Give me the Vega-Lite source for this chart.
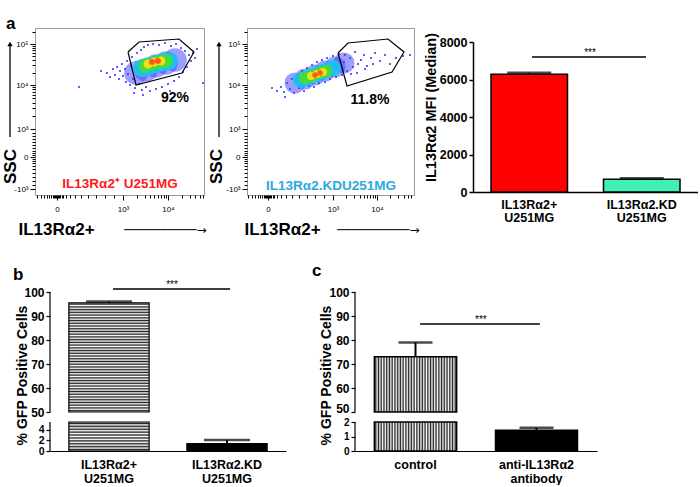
{
"$schema":"https://vega.github.io/schema/vega-lite/v6.json",
"padding":{"left":0,"top":14,"right":0,"bottom":0},
"background":"white",
"config":{"font":"Liberation Sans","view":{"stroke":null},
"axis":{"labelFont":"Liberation Sans","titleFont":"Liberation Sans","labelColor":"#000","titleColor":"#000","tickColor":"#000","domainColor":"#000","grid":false,"labelOverlap":false},
"title":{"font":"Liberation Sans","color":"#000"},"text":{"font":"Liberation Sans"}},
"resolve":{"scale":{"color":"independent","size":"independent","opacity":"independent"}},
"datasets":{
"flow1":[{"x":72,"y":122,"lvl":0},{"x":75,"y":118,"lvl":0},{"x":78,"y":126,"lvl":0},{"x":80,"y":120,"lvl":0},{"x":82,"y":128,"lvl":0},{"x":84,"y":116,"lvl":0},{"x":85,"y":124,"lvl":0},{"x":87,"y":131,"lvl":0},{"x":88,"y":119,"lvl":0},{"x":90,"y":126,"lvl":0},{"x":91,"y":113,"lvl":0},{"x":92,"y":134,"lvl":0},{"x":93,"y":121,"lvl":0},{"x":95,"y":110,"lvl":0},{"x":96,"y":129,"lvl":0},{"x":97,"y":138,"lvl":0},{"x":98,"y":116,"lvl":0},{"x":100,"y":107,"lvl":0},{"x":101,"y":133,"lvl":0},{"x":102,"y":142,"lvl":0},{"x":104,"y":111,"lvl":0},{"x":106,"y":145,"lvl":0},{"x":107,"y":105,"lvl":0},{"x":109,"y":148,"lvl":0},{"x":111,"y":108,"lvl":0},{"x":113,"y":150,"lvl":0},{"x":115,"y":104,"lvl":0},{"x":118,"y":151,"lvl":0},{"x":121,"y":106,"lvl":0},{"x":124,"y":150,"lvl":0},{"x":127,"y":108,"lvl":0},{"x":130,"y":152,"lvl":0},{"x":133,"y":111,"lvl":0},{"x":136,"y":149,"lvl":0},{"x":139,"y":114,"lvl":0},{"x":141,"y":151,"lvl":0},{"x":144,"y":118,"lvl":0},{"x":146,"y":147,"lvl":0},{"x":148,"y":123,"lvl":0},{"x":150,"y":144,"lvl":0},{"x":152,"y":128,"lvl":0},{"x":154,"y":140,"lvl":0},{"x":156,"y":134,"lvl":0},{"x":158,"y":142,"lvl":0},{"x":160,"y":137,"lvl":0},{"x":44,"y":108,"lvl":0},{"x":168,"y":112,"lvl":0},{"x":66,"y":124,"lvl":0},{"x":162,"y":146,"lvl":0},{"x":99,"y":102,"lvl":0},{"x":108,"y":100,"lvl":0},{"x":135,"y":104,"lvl":0},
{"x":101,"y":122,"lvl":1},{"x":111,"y":125,"lvl":1},{"x":121,"y":129,"lvl":1},{"x":131,"y":132,"lvl":1},{"x":140,"y":135,"lvl":1},
{"x":107,"y":127,"lvl":2},{"x":114,"y":129,"lvl":2},{"x":121,"y":131,"lvl":2},{"x":128,"y":133,"lvl":2},{"x":134,"y":134,"lvl":2},
{"x":110,"y":129,"lvl":3},{"x":117,"y":131,"lvl":3},{"x":124,"y":133,"lvl":3},{"x":131,"y":134,"lvl":3},
{"x":113,"y":131,"lvl":4},{"x":119,"y":133,"lvl":4},{"x":126,"y":134,"lvl":4},
{"x":117,"y":133,"lvl":5},{"x":123,"y":134,"lvl":5}],
"flow2":[{"x":30,"y":104,"lvl":0},{"x":34,"y":108,"lvl":0},{"x":37,"y":103,"lvl":0},{"x":40,"y":112,"lvl":0},{"x":43,"y":106,"lvl":0},{"x":45,"y":116,"lvl":0},{"x":47,"y":102,"lvl":0},{"x":50,"y":120,"lvl":0},{"x":52,"y":107,"lvl":0},{"x":55,"y":124,"lvl":0},{"x":57,"y":104,"lvl":0},{"x":60,"y":127,"lvl":0},{"x":62,"y":109,"lvl":0},{"x":65,"y":130,"lvl":0},{"x":67,"y":108,"lvl":0},{"x":70,"y":133,"lvl":0},{"x":72,"y":112,"lvl":0},{"x":75,"y":135,"lvl":0},{"x":78,"y":113,"lvl":0},{"x":80,"y":137,"lvl":0},{"x":83,"y":116,"lvl":0},{"x":86,"y":139,"lvl":0},{"x":89,"y":118,"lvl":0},{"x":92,"y":141,"lvl":0},{"x":95,"y":120,"lvl":0},{"x":98,"y":140,"lvl":0},{"x":100,"y":124,"lvl":0},{"x":103,"y":137,"lvl":0},{"x":106,"y":128,"lvl":0},{"x":108,"y":143,"lvl":0},{"x":111,"y":131,"lvl":0},{"x":114,"y":135,"lvl":0},{"x":117,"y":140,"lvl":0},{"x":120,"y":129,"lvl":0},{"x":124,"y":137,"lvl":0},{"x":128,"y":142,"lvl":0},{"x":133,"y":134,"lvl":0},{"x":138,"y":140,"lvl":0},{"x":143,"y":131,"lvl":0},{"x":149,"y":137,"lvl":0},{"x":156,"y":139,"lvl":0},{"x":163,"y":140,"lvl":0},{"x":110,"y":122,"lvl":0},{"x":118,"y":126,"lvl":0},{"x":126,"y":131,"lvl":0},{"x":97,"y":133,"lvl":0},{"x":91,"y":131,"lvl":0},{"x":104,"y":121,"lvl":0},{"x":38,"y":98,"lvl":0},{"x":25,"y":107,"lvl":0},
{"x":48,"y":112,"lvl":1},{"x":58,"y":116,"lvl":1},{"x":68,"y":120,"lvl":1},{"x":78,"y":124,"lvl":1},{"x":88,"y":128,"lvl":1},{"x":97,"y":132,"lvl":1},
{"x":54,"y":115,"lvl":2},{"x":62,"y":118,"lvl":2},{"x":70,"y":121,"lvl":2},{"x":78,"y":124,"lvl":2},{"x":86,"y":127,"lvl":2},
{"x":58,"y":117,"lvl":3},{"x":65,"y":119,"lvl":3},{"x":72,"y":122,"lvl":3},{"x":79,"y":124,"lvl":3},
{"x":64,"y":119,"lvl":4},{"x":70,"y":121,"lvl":4},{"x":76,"y":123,"lvl":4},
{"x":68,"y":120,"lvl":5},{"x":73,"y":122,"lvl":5}],
"gate1":[{"i":0,"x":93,"y":143},{"i":1,"x":104,"y":153},{"i":2,"x":144,"y":156},{"i":3,"x":159,"y":143},{"i":4,"x":147,"y":122},{"i":5,"x":101,"y":110},{"i":6,"x":93,"y":143}],
"gate2":[{"i":0,"x":91,"y":142},{"i":1,"x":101,"y":152},{"i":2,"x":141,"y":156},{"i":3,"x":157,"y":143},{"i":4,"x":145,"y":123},{"i":5,"x":100,"y":109},{"i":6,"x":91,"y":142}],
"a":[{"g":"IL13Rα2+ U251MG","v":6280,"e":6350},{"g":"IL13Rα2.KD U251MG","v":680,"e":720}],
"b":[{"g":"IL13Rα2+ U251MG","v":95.5,"e":96},{"g":"IL13Rα2.KD U251MG","v":1.4,"e":2.1}],
"c":[{"g":"control","v":73,"e":79},{"g":"anti-IL13Rα2 antibody","v":1.45,"e":1.6}]
},
"columns":3,
"bounds":"flush",
"spacing":{"row":97,"column":43},
"concat":[
  {"width":169,"height":167,"view":{"stroke":"#999"},
   "title":{"text":"a","anchor":"start","frame":"group","dx":-29,"offset":-18,"baseline":"alphabetic","fontSize":17,"fontWeight":"bold"},
   "resolve":{"axis":{"x":"independent","y":"independent"}},
   "layer":[
    {"data":{"name":"flow1"},"mark":{"type":"circle"},
     "encoding":{
      "x":{"field":"x","type":"quantitative","scale":{"domain":[0,169],"nice":false,"zero":false},
        "axis":{"orient":"bottom","domain":false,"values":[2,6,9,12,14,16,17.5,19,20,21,22,23,24,25,26.5,28,31,35,40,46,53,61,70,79,88,101.5,109.5,115,119.5,123,126,128.6,130.9,133,146.5,154.5,160,164.5,168],
        "labelExpr":"datum.value==22?'0':datum.value==88?'10³':datum.value==133?'10⁴':''",
        "tickSize":{"condition":{"test":"datum.value==22||datum.value==88||datum.value==133","value":5},"value":3},
        "labelFontSize":8,"labelPadding":5,"labelFlush":false,
        "title":"IL13Rα2+","titleFontSize":17,"titleFontWeight":"bold","titleAlign":"left","titleBaseline":"middle","titleX":-17,"titleY":34}},
      "y":{"field":"y","type":"quantitative","scale":{"domain":[0,167],"nice":false,"zero":false},
        "axis":{"orient":"left","domain":false,"values":[6,10,14,18,22,26,29,32,34,36,38,40,42,44,47,50,53,56,59,62,66,79.2,87,92.5,96.8,100.2,103.2,105.7,108,110,122.3,129.6,134.7,138.7,141.9,144.6,147,149.1,151,163.3],
        "labelExpr":"datum.value==6?'-10³':datum.value==38?'0':datum.value==66?'10³':datum.value==110?'10⁴':datum.value==151?'10⁵':''",
        "tickSize":{"condition":{"test":"datum.value==6||datum.value==38||datum.value==66||datum.value==110||datum.value==151","value":5},"value":3},
        "labelFontSize":8,"labelPadding":2,"labelFlush":false,
        "title":"SSC","titleFontSize":17,"titleFontWeight":"bold","titleAngle":270,"titleAlign":"center","titleBaseline":"middle","titleX":-25,"titleY":138}},
      "color":{"field":"lvl","type":"ordinal","scale":{"domain":[0,1,2,3,4,5],"range":["#2828ff","#3c3cff","#18c4f4","#40dc40","#eee010","#ff5a1a"]},"legend":null},
      "size":{"field":"lvl","type":"quantitative","scale":{"type":"linear","domain":[0,1,2,3,4,5],"range":[4,560,330,190,80,36],"zero":false,"nice":false},"legend":null},
      "opacity":{"field":"lvl","type":"quantitative","scale":{"type":"linear","domain":[0,1,2,3,4,5],"range":[1,0.5,0.9,1,1,1],"zero":false,"nice":false},"legend":null},
      "order":{"field":"lvl","type":"quantitative"}}},
    {"data":{"name":"gate1"},"mark":{"type":"line","color":"#000","strokeWidth":1.2},
     "encoding":{
      "x":{"field":"x","type":"quantitative","axis":{"orient":"bottom","domain":false,"ticks":false,"labels":false,"values":[],"title":"──────────→","titleFont":"DejaVu Sans","titleFontWeight":"normal","titleFontSize":12,"titleAlign":"center","titleBaseline":"middle","titleX":130,"titleY":34}},
      "y":{"field":"y","type":"quantitative","axis":null},
      "order":{"field":"i","type":"quantitative"}}},
    {"data":{"values":[{"x":-25,"y1":58,"y2":149}]},"mark":{"type":"rule","color":"#000","strokeWidth":1.3},
     "encoding":{"x":{"field":"x","type":"quantitative","axis":null},"y":{"field":"y1","type":"quantitative","axis":null},"y2":{"field":"y2"}}},
    {"data":{"values":[{"x":-25,"y":151}]},"mark":{"type":"point","shape":"triangle-up","filled":true,"color":"#000","size":28,"opacity":1},
     "encoding":{"x":{"field":"x","type":"quantitative","axis":null},"y":{"field":"y","type":"quantitative","axis":null}}},
    {"data":{"values":[{"x":140,"y":97,"t":"92%"}]},"mark":{"type":"text","fontSize":14,"fontWeight":"bold","color":"#000"},
     "encoding":{"x":{"field":"x","type":"quantitative","axis":null},"y":{"field":"y","type":"quantitative","axis":null},"text":{"field":"t"}}},
    {"data":{"values":[{"x":85,"y":11,"t":"IL13Rα2⁺ U251MG"}]},"mark":{"type":"text","fontSize":13.5,"fontWeight":"bold","color":"#ff1a1a"},
     "encoding":{"x":{"field":"x","type":"quantitative","axis":null},"y":{"field":"y","type":"quantitative","axis":null},"text":{"field":"t"}}}
   ]},
  {"width":167,"height":167,"view":{"stroke":"#999"},
   "resolve":{"axis":{"x":"independent","y":"independent"}},
   "layer":[
    {"data":{"name":"flow2"},"mark":{"type":"circle"},
     "encoding":{
      "x":{"field":"x","type":"quantitative","scale":{"domain":[0,167],"nice":false,"zero":false},
        "axis":{"orient":"bottom","domain":false,"values":[1,5,8,11,13,15,16.5,18,19,20,21,22,23,24,25.5,27,30,34,39,45,52,60,68,77,86,99.2,107,112.5,116.8,120.2,123.2,125.7,128,130,143.2,151,156.5,160.8,164.2],
        "labelExpr":"datum.value==21?'0':datum.value==86?'10³':datum.value==130?'10⁴':''",
        "tickSize":{"condition":{"test":"datum.value==21||datum.value==86||datum.value==130","value":5},"value":3},
        "labelFontSize":8,"labelPadding":5,"labelFlush":false,
        "title":"IL13Rα2+","titleFontSize":17,"titleFontWeight":"bold","titleAlign":"left","titleBaseline":"middle","titleX":-3,"titleY":34}},
      "y":{"field":"y","type":"quantitative","scale":{"domain":[0,167],"nice":false,"zero":false},
        "axis":{"orient":"left","domain":false,"values":[6,10,14,18,22,26,29,32,34,36,38,40,42,44,47,50,53,56,59,62,66,79.2,87,92.5,96.8,100.2,103.2,105.7,108,110,122.3,129.6,134.7,138.7,141.9,144.6,147,149.1,151,163.3],
        "labelExpr":"datum.value==6?'-10³':datum.value==38?'0':datum.value==66?'10³':datum.value==110?'10⁴':datum.value==151?'10⁵':''",
        "tickSize":{"condition":{"test":"datum.value==6||datum.value==38||datum.value==66||datum.value==110||datum.value==151","value":5},"value":3},
        "labelFontSize":8,"labelPadding":2,"labelFlush":false,
        "title":"SSC","titleFontSize":17,"titleFontWeight":"bold","titleAngle":270,"titleAlign":"center","titleBaseline":"middle","titleX":-31,"titleY":138}},
      "color":{"field":"lvl","type":"ordinal","scale":{"domain":[0,1,2,3,4,5],"range":["#2828ff","#3c3cff","#18c4f4","#40dc40","#eee010","#ff5a1a"]},"legend":null},
      "size":{"field":"lvl","type":"quantitative","scale":{"type":"linear","domain":[0,1,2,3,4,5],"range":[4,440,260,160,64,30],"zero":false,"nice":false},"legend":null},
      "opacity":{"field":"lvl","type":"quantitative","scale":{"type":"linear","domain":[0,1,2,3,4,5],"range":[1,0.5,0.9,1,1,1],"zero":false,"nice":false},"legend":null},
      "order":{"field":"lvl","type":"quantitative"}}},
    {"data":{"name":"gate2"},"mark":{"type":"line","color":"#000","strokeWidth":1.2},
     "encoding":{
      "x":{"field":"x","type":"quantitative","axis":{"orient":"bottom","domain":false,"ticks":false,"labels":false,"values":[],"title":"──────────→","titleFont":"DejaVu Sans","titleFontWeight":"normal","titleFontSize":12,"titleAlign":"center","titleBaseline":"middle","titleX":131,"titleY":34}},
      "y":{"field":"y","type":"quantitative","axis":null},
      "order":{"field":"i","type":"quantitative"}}},
    {"data":{"values":[{"x":-28,"y1":58,"y2":149}]},"mark":{"type":"rule","color":"#000","strokeWidth":1.3},
     "encoding":{"x":{"field":"x","type":"quantitative","axis":null},"y":{"field":"y1","type":"quantitative","axis":null},"y2":{"field":"y2"}}},
    {"data":{"values":[{"x":-28,"y":151}]},"mark":{"type":"point","shape":"triangle-up","filled":true,"color":"#000","size":28,"opacity":1},
     "encoding":{"x":{"field":"x","type":"quantitative","axis":null},"y":{"field":"y","type":"quantitative","axis":null}}},
    {"data":{"values":[{"x":123,"y":95,"t":"11.8%"}]},"mark":{"type":"text","fontSize":14,"fontWeight":"bold","color":"#000"},
     "encoding":{"x":{"field":"x","type":"quantitative","axis":null},"y":{"field":"y","type":"quantitative","axis":null},"text":{"field":"t"}}},
    {"data":{"values":[{"x":84,"y":9,"t":"IL13Rα2.KDU251MG"}]},"mark":{"type":"text","fontSize":13.5,"fontWeight":"bold","color":"#2aa9e0"},
     "encoding":{"x":{"field":"x","type":"quantitative","axis":null},"y":{"field":"y","type":"quantitative","axis":null},"text":{"field":"t"}}}
   ]},
  {"width":241,"height":164,
   "resolve":{"scale":{"x":"independent"}},
   "layer":[
    {"data":{"name":"a"},
     "encoding":{"x":{"field":"g","type":"nominal","scale":{"domain":["IL13Rα2+ U251MG","IL13Rα2.KD U251MG"],"range":[16,241],"paddingInner":0.32,"paddingOuter":0.16},
        "axis":{"title":null,"ticks":false,"labelAngle":0,"labelFontSize":12.5,"labelFontWeight":"bold","labelExpr":"split(datum.label,' ')","labelLineHeight":13,"labelPadding":6,"domainWidth":1.5,"labelBaseline":"top"}}},
     "layer":[
      {"mark":{"type":"bar","stroke":"#000","strokeWidth":1.5},
       "encoding":{"y":{"field":"v","type":"quantitative","scale":{"domain":[0,8000],"range":[164,14],"nice":false},
          "axis":{"values":[0,2000,4000,6000,8000],"format":"d","offset":-16,"labelFontSize":12.5,"labelFontWeight":"bold","tickSize":4,"tickWidth":1.5,"domainWidth":1.5,"labelPadding":2,
            "title":"IL13Rα2 MFI (Median)","titleFontSize":14.5,"titleFontWeight":"bold","titleAngle":270,"titleAlign":"center","titleBaseline":"middle","titleX":-42,"titleY":79}},
         "color":{"field":"g","type":"nominal","scale":{"domain":["IL13Rα2+ U251MG","IL13Rα2.KD U251MG"],"range":["#ff0000","#40f0b4"]},"legend":null}}},
      {"mark":{"type":"rule","strokeWidth":2,"color":"#000"},"encoding":{"y":{"field":"v","type":"quantitative"},"y2":{"field":"e"}}},
      {"mark":{"type":"tick","thickness":3,"size":44,"color":"#000"},"encoding":{"y":{"field":"e","type":"quantitative"}}}
     ]},
    {"data":{"values":[{"x1":0.262,"x2":0.769,"y":7200,"xt":0.52,"yt":7260,"t":"***"}]},
     "layer":[
      {"mark":{"type":"rule","strokeWidth":1.5,"color":"#000"},"encoding":{"x":{"field":"x1","type":"quantitative","scale":{"domain":[0,1],"range":[16,241],"nice":false},"axis":null},"x2":{"field":"x2"},"y":{"field":"y","type":"quantitative"}}},
      {"mark":{"type":"text","fontSize":10,"baseline":"alphabetic","color":"#000"},"encoding":{"x":{"field":"xt","type":"quantitative","axis":null},"y":{"field":"yt","type":"quantitative"},"text":{"field":"t"}}}
     ]}
   ]},
  {"width":169,"height":159,
   "title":{"text":"b","anchor":"start","frame":"group","dx":-22,"offset":-17,"baseline":"alphabetic","fontSize":17,"fontWeight":"bold"},
   "resolve":{"scale":{"x":"independent"}},
   "layer":[
    {"data":{"name":"b"},
     "encoding":{"x":{"field":"g","type":"nominal","scale":{"domain":["IL13Rα2+ U251MG","IL13Rα2.KD U251MG"],"range":[15,251],"paddingInner":0.32,"paddingOuter":0.16},
        "axis":{"title":null,"ticks":false,"labelAngle":0,"labelFontSize":12.5,"labelFontWeight":"bold","labelExpr":"split(datum.label,' ')","labelLineHeight":14,"labelPadding":7,"domainWidth":1.2,"labelBaseline":"top"}}},
     "layer":[
      {"transform":[{"filter":"datum.v > 50"}],
       "mark":{"type":"bar","stroke":"#000","strokeWidth":1.2,"fill":{"gradient":"linear","x1":0,"y1":0,"x2":0,"y2":1,"stops":[{"offset":0,"color":"#fff"},{"offset":0.0125,"color":"#222"},{"offset":0.025,"color":"#fff"},{"offset":0.0375,"color":"#222"},{"offset":0.05,"color":"#fff"},{"offset":0.0625,"color":"#222"},{"offset":0.075,"color":"#fff"},{"offset":0.0875,"color":"#222"},{"offset":0.1,"color":"#fff"},{"offset":0.1125,"color":"#222"},{"offset":0.125,"color":"#fff"},{"offset":0.1375,"color":"#222"},{"offset":0.15,"color":"#fff"},{"offset":0.1625,"color":"#222"},{"offset":0.175,"color":"#fff"},{"offset":0.1875,"color":"#222"},{"offset":0.2,"color":"#fff"},{"offset":0.2125,"color":"#222"},{"offset":0.225,"color":"#fff"},{"offset":0.2375,"color":"#222"},{"offset":0.25,"color":"#fff"},{"offset":0.2625,"color":"#222"},{"offset":0.275,"color":"#fff"},{"offset":0.2875,"color":"#222"},{"offset":0.3,"color":"#fff"},{"offset":0.3125,"color":"#222"},{"offset":0.325,"color":"#fff"},{"offset":0.3375,"color":"#222"},{"offset":0.35,"color":"#fff"},{"offset":0.3625,"color":"#222"},{"offset":0.375,"color":"#fff"},{"offset":0.3875,"color":"#222"},{"offset":0.4,"color":"#fff"},{"offset":0.4125,"color":"#222"},{"offset":0.425,"color":"#fff"},{"offset":0.4375,"color":"#222"},{"offset":0.45,"color":"#fff"},{"offset":0.4625,"color":"#222"},{"offset":0.475,"color":"#fff"},{"offset":0.4875,"color":"#222"},{"offset":0.5,"color":"#fff"},{"offset":0.5125,"color":"#222"},{"offset":0.525,"color":"#fff"},{"offset":0.5375,"color":"#222"},{"offset":0.55,"color":"#fff"},{"offset":0.5625,"color":"#222"},{"offset":0.575,"color":"#fff"},{"offset":0.5875,"color":"#222"},{"offset":0.6,"color":"#fff"},{"offset":0.6125,"color":"#222"},{"offset":0.625,"color":"#fff"},{"offset":0.6375,"color":"#222"},{"offset":0.65,"color":"#fff"},{"offset":0.6625,"color":"#222"},{"offset":0.675,"color":"#fff"},{"offset":0.6875,"color":"#222"},{"offset":0.7,"color":"#fff"},{"offset":0.7125,"color":"#222"},{"offset":0.725,"color":"#fff"},{"offset":0.7375,"color":"#222"},{"offset":0.75,"color":"#fff"},{"offset":0.7625,"color":"#222"},{"offset":0.775,"color":"#fff"},{"offset":0.7875,"color":"#222"},{"offset":0.8,"color":"#fff"},{"offset":0.8125,"color":"#222"},{"offset":0.825,"color":"#fff"},{"offset":0.8375,"color":"#222"},{"offset":0.85,"color":"#fff"},{"offset":0.8625,"color":"#222"},{"offset":0.875,"color":"#fff"},{"offset":0.8875,"color":"#222"},{"offset":0.9,"color":"#fff"},{"offset":0.9125,"color":"#222"},{"offset":0.925,"color":"#fff"},{"offset":0.9375,"color":"#222"},{"offset":0.95,"color":"#fff"},{"offset":0.9625,"color":"#222"},{"offset":0.975,"color":"#fff"},{"offset":0.9875,"color":"#222"},{"offset":1,"color":"#fff"}]}},
       "encoding":{"y":{"field":"v","type":"quantitative","scale":{"domain":[0,5.5,50,100],"range":[159,130,120,0],"nice":false,"zero":false},
          "axis":{"domain":false,"offset":-15,"values":[0,2,4,50,60,70,80,90,100],"labelOverlap":false,"labelFontSize":{"condition":{"test":"datum.value < 10","value":10.5},"value":12},"labelFontWeight":"bold","tickSize":4,"tickWidth":1.2,"labelPadding":2,"title":"% GFP Positive Cells","titleFontSize":14,"titleFontWeight":"bold","titleAngle":270,"titleAlign":"center","titleBaseline":"middle","titleX":-28,"titleY":83}},
         "y2":{"datum":50}}},
      {"transform":[{"filter":"datum.v > 5.5"}],
       "mark":{"type":"bar","stroke":"#000","strokeWidth":1.2,"fill":{"gradient":"linear","x1":0,"y1":0,"x2":0,"y2":1,"stops":[{"offset":0,"color":"#fff"},{"offset":0.05,"color":"#222"},{"offset":0.1,"color":"#fff"},{"offset":0.15,"color":"#222"},{"offset":0.2,"color":"#fff"},{"offset":0.25,"color":"#222"},{"offset":0.3,"color":"#fff"},{"offset":0.35,"color":"#222"},{"offset":0.4,"color":"#fff"},{"offset":0.45,"color":"#222"},{"offset":0.5,"color":"#fff"},{"offset":0.55,"color":"#222"},{"offset":0.6,"color":"#fff"},{"offset":0.65,"color":"#222"},{"offset":0.7,"color":"#fff"},{"offset":0.75,"color":"#222"},{"offset":0.8,"color":"#fff"},{"offset":0.85,"color":"#222"},{"offset":0.9,"color":"#fff"},{"offset":0.95,"color":"#222"},{"offset":1,"color":"#fff"}]}},
       "encoding":{"y":{"datum":5.5,"axis":{"domain":false,"offset":-15,"values":[0,2,4,50,60,70,80,90,100],"labelOverlap":false,"labelFontSize":{"condition":{"test":"datum.value < 10","value":10.5},"value":12},"labelFontWeight":"bold","tickSize":4,"tickWidth":1.2,"labelPadding":2,"title":"% GFP Positive Cells","titleFontSize":14,"titleFontWeight":"bold","titleAngle":270,"titleAlign":"center","titleBaseline":"middle","titleX":-28,"titleY":83}},"y2":{"datum":0}}},
      {"transform":[{"filter":"datum.v <= 5.5"}],"mark":{"type":"bar","fill":"#000","stroke":"#000","strokeWidth":1.2},"encoding":{"y":{"field":"v","type":"quantitative","axis":{"domain":false,"offset":-15,"values":[0,2,4,50,60,70,80,90,100],"labelOverlap":false,"labelFontSize":{"condition":{"test":"datum.value < 10","value":10.5},"value":12},"labelFontWeight":"bold","tickSize":4,"tickWidth":1.2,"labelPadding":2,"title":"% GFP Positive Cells","titleFontSize":14,"titleFontWeight":"bold","titleAngle":270,"titleAlign":"center","titleBaseline":"middle","titleX":-28,"titleY":83}}}},
      {"mark":{"type":"rule","strokeWidth":2,"color":"#000"},"encoding":{"y":{"field":"v","type":"quantitative","axis":{"domain":false,"offset":-15,"values":[0,2,4,50,60,70,80,90,100],"labelOverlap":false,"labelFontSize":{"condition":{"test":"datum.value < 10","value":10.5},"value":12},"labelFontWeight":"bold","tickSize":4,"tickWidth":1.2,"labelPadding":2,"title":"% GFP Positive Cells","titleFontSize":14,"titleFontWeight":"bold","titleAngle":270,"titleAlign":"center","titleBaseline":"middle","titleX":-28,"titleY":83}},"y2":{"field":"e"}}},
      {"mark":{"type":"tick","thickness":2.5,"size":46,"color":"#000"},"encoding":{"y":{"field":"e","type":"quantitative","axis":{"domain":false,"offset":-15,"values":[0,2,4,50,60,70,80,90,100],"labelOverlap":false,"labelFontSize":{"condition":{"test":"datum.value < 10","value":10.5},"value":12},"labelFontWeight":"bold","tickSize":4,"tickWidth":1.2,"labelPadding":2,"title":"% GFP Positive Cells","titleFontSize":14,"titleFontWeight":"bold","titleAngle":270,"titleAlign":"center","titleBaseline":"middle","titleX":-28,"titleY":83}}}}
     ]},
    {"data":{"values":[{"x":0,"y0":0,"y1":5.5},{"x":0,"y0":50,"y1":100}]},"mark":{"type":"rule","strokeWidth":1.2,"color":"#000"},
     "encoding":{"x":{"field":"x","type":"quantitative","scale":{"domain":[0,1],"range":[15,251],"nice":false},"axis":null},"y":{"field":"y0","type":"quantitative","axis":{"domain":false,"offset":-15,"values":[0,2,4,50,60,70,80,90,100],"labelOverlap":false,"labelFontSize":{"condition":{"test":"datum.value < 10","value":10.5},"value":12},"labelFontWeight":"bold","tickSize":4,"tickWidth":1.2,"labelPadding":2,"title":"% GFP Positive Cells","titleFontSize":14,"titleFontWeight":"bold","titleAngle":270,"titleAlign":"center","titleBaseline":"middle","titleX":-28,"titleY":83}},"y2":{"field":"y1"}}},
    {"data":{"values":[{"x1":0.267,"x2":0.763,"y":101.25,"xt":0.517,"yt":101.7,"t":"***"}]},
     "layer":[
      {"mark":{"type":"rule","strokeWidth":1.5,"color":"#000"},"encoding":{"x":{"field":"x1","type":"quantitative","scale":{"domain":[0,1],"range":[15,251],"nice":false},"axis":null},"x2":{"field":"x2"},"y":{"field":"y","type":"quantitative","axis":{"domain":false,"offset":-15,"values":[0,2,4,50,60,70,80,90,100],"labelOverlap":false,"labelFontSize":{"condition":{"test":"datum.value < 10","value":10.5},"value":12},"labelFontWeight":"bold","tickSize":4,"tickWidth":1.2,"labelPadding":2,"title":"% GFP Positive Cells","titleFontSize":14,"titleFontWeight":"bold","titleAngle":270,"titleAlign":"center","titleBaseline":"middle","titleX":-28,"titleY":83}}}},
      {"mark":{"type":"text","fontSize":10,"baseline":"alphabetic","color":"#000"},"encoding":{"x":{"field":"xt","type":"quantitative","axis":null},"y":{"field":"yt","type":"quantitative","axis":{"domain":false,"offset":-15,"values":[0,2,4,50,60,70,80,90,100],"labelOverlap":false,"labelFontSize":{"condition":{"test":"datum.value < 10","value":10.5},"value":12},"labelFontWeight":"bold","tickSize":4,"tickWidth":1.2,"labelPadding":2,"title":"% GFP Positive Cells","titleFontSize":14,"titleFontWeight":"bold","titleAngle":270,"titleAlign":"center","titleBaseline":"middle","titleX":-28,"titleY":83}},"text":{"field":"t"}}}
     ]}
   ]},
  {"width":167,"height":159,
   "title":{"text":"c","anchor":"start","frame":"group","dx":65,"offset":-7,"baseline":"alphabetic","fontSize":17,"fontWeight":"bold"},
   "resolve":{"scale":{"x":"independent"}},
   "layer":[
    {"data":{"name":"c"},
     "encoding":{"x":{"field":"g","type":"nominal","scale":{"domain":["control","anti-IL13Rα2 antibody"],"range":[108,350],"paddingInner":0.32,"paddingOuter":0.16},
        "axis":{"title":null,"ticks":false,"labelAngle":0,"labelFontSize":12.5,"labelFontWeight":"bold","labelExpr":"split(datum.label,' ')","labelLineHeight":14,"labelPadding":7,"domainWidth":1.2,"labelBaseline":"top"}}},
     "layer":[
      {"transform":[{"filter":"datum.v > 50"}],
       "mark":{"type":"bar","stroke":"#000","strokeWidth":1.5,"fill":{"gradient":"linear","x1":0,"y1":0,"x2":1,"y2":0,"stops":[{"offset":0,"color":"#fff"},{"offset":0.0167,"color":"#222"},{"offset":0.0333,"color":"#fff"},{"offset":0.05,"color":"#222"},{"offset":0.0667,"color":"#fff"},{"offset":0.0833,"color":"#222"},{"offset":0.1,"color":"#fff"},{"offset":0.1167,"color":"#222"},{"offset":0.1333,"color":"#fff"},{"offset":0.15,"color":"#222"},{"offset":0.1667,"color":"#fff"},{"offset":0.1833,"color":"#222"},{"offset":0.2,"color":"#fff"},{"offset":0.2167,"color":"#222"},{"offset":0.2333,"color":"#fff"},{"offset":0.25,"color":"#222"},{"offset":0.2667,"color":"#fff"},{"offset":0.2833,"color":"#222"},{"offset":0.3,"color":"#fff"},{"offset":0.3167,"color":"#222"},{"offset":0.3333,"color":"#fff"},{"offset":0.35,"color":"#222"},{"offset":0.3667,"color":"#fff"},{"offset":0.3833,"color":"#222"},{"offset":0.4,"color":"#fff"},{"offset":0.4167,"color":"#222"},{"offset":0.4333,"color":"#fff"},{"offset":0.45,"color":"#222"},{"offset":0.4667,"color":"#fff"},{"offset":0.4833,"color":"#222"},{"offset":0.5,"color":"#fff"},{"offset":0.5167,"color":"#222"},{"offset":0.5333,"color":"#fff"},{"offset":0.55,"color":"#222"},{"offset":0.5667,"color":"#fff"},{"offset":0.5833,"color":"#222"},{"offset":0.6,"color":"#fff"},{"offset":0.6167,"color":"#222"},{"offset":0.6333,"color":"#fff"},{"offset":0.65,"color":"#222"},{"offset":0.6667,"color":"#fff"},{"offset":0.6833,"color":"#222"},{"offset":0.7,"color":"#fff"},{"offset":0.7167,"color":"#222"},{"offset":0.7333,"color":"#fff"},{"offset":0.75,"color":"#222"},{"offset":0.7667,"color":"#fff"},{"offset":0.7833,"color":"#222"},{"offset":0.8,"color":"#fff"},{"offset":0.8167,"color":"#222"},{"offset":0.8333,"color":"#fff"},{"offset":0.85,"color":"#222"},{"offset":0.8667,"color":"#fff"},{"offset":0.8833,"color":"#222"},{"offset":0.9,"color":"#fff"},{"offset":0.9167,"color":"#222"},{"offset":0.9333,"color":"#fff"},{"offset":0.95,"color":"#222"},{"offset":0.9667,"color":"#fff"},{"offset":0.9833,"color":"#222"},{"offset":1,"color":"#fff"}]}},
       "encoding":{"y":{"field":"v","type":"quantitative","scale":{"domain":[0,2,50,100],"range":[159,130,120,0],"nice":false,"zero":false},
          "axis":{"domain":false,"offset":-108,"values":[0,1,2,50,60,70,80,90,100],"labelOverlap":false,"labelFontSize":{"condition":{"test":"datum.value < 10","value":10},"value":12},"labelBaseline":{"condition":{"test":"datum.value == 50","value":"alphabetic"},"value":"middle"},"labelFontWeight":"bold","tickSize":4,"tickWidth":1.2,"labelPadding":2,"title":"% GFP Positive Cells","titleFontSize":14,"titleFontWeight":"bold","titleAngle":270,"titleAlign":"center","titleBaseline":"middle","titleX":-29,"titleY":83}},
         "y2":{"datum":50}}},
      {"transform":[{"filter":"datum.v > 2"}],
       "mark":{"type":"bar","stroke":"#000","strokeWidth":1.5,"fill":{"gradient":"linear","x1":0,"y1":0,"x2":1,"y2":0,"stops":[{"offset":0,"color":"#fff"},{"offset":0.0167,"color":"#222"},{"offset":0.0333,"color":"#fff"},{"offset":0.05,"color":"#222"},{"offset":0.0667,"color":"#fff"},{"offset":0.0833,"color":"#222"},{"offset":0.1,"color":"#fff"},{"offset":0.1167,"color":"#222"},{"offset":0.1333,"color":"#fff"},{"offset":0.15,"color":"#222"},{"offset":0.1667,"color":"#fff"},{"offset":0.1833,"color":"#222"},{"offset":0.2,"color":"#fff"},{"offset":0.2167,"color":"#222"},{"offset":0.2333,"color":"#fff"},{"offset":0.25,"color":"#222"},{"offset":0.2667,"color":"#fff"},{"offset":0.2833,"color":"#222"},{"offset":0.3,"color":"#fff"},{"offset":0.3167,"color":"#222"},{"offset":0.3333,"color":"#fff"},{"offset":0.35,"color":"#222"},{"offset":0.3667,"color":"#fff"},{"offset":0.3833,"color":"#222"},{"offset":0.4,"color":"#fff"},{"offset":0.4167,"color":"#222"},{"offset":0.4333,"color":"#fff"},{"offset":0.45,"color":"#222"},{"offset":0.4667,"color":"#fff"},{"offset":0.4833,"color":"#222"},{"offset":0.5,"color":"#fff"},{"offset":0.5167,"color":"#222"},{"offset":0.5333,"color":"#fff"},{"offset":0.55,"color":"#222"},{"offset":0.5667,"color":"#fff"},{"offset":0.5833,"color":"#222"},{"offset":0.6,"color":"#fff"},{"offset":0.6167,"color":"#222"},{"offset":0.6333,"color":"#fff"},{"offset":0.65,"color":"#222"},{"offset":0.6667,"color":"#fff"},{"offset":0.6833,"color":"#222"},{"offset":0.7,"color":"#fff"},{"offset":0.7167,"color":"#222"},{"offset":0.7333,"color":"#fff"},{"offset":0.75,"color":"#222"},{"offset":0.7667,"color":"#fff"},{"offset":0.7833,"color":"#222"},{"offset":0.8,"color":"#fff"},{"offset":0.8167,"color":"#222"},{"offset":0.8333,"color":"#fff"},{"offset":0.85,"color":"#222"},{"offset":0.8667,"color":"#fff"},{"offset":0.8833,"color":"#222"},{"offset":0.9,"color":"#fff"},{"offset":0.9167,"color":"#222"},{"offset":0.9333,"color":"#fff"},{"offset":0.95,"color":"#222"},{"offset":0.9667,"color":"#fff"},{"offset":0.9833,"color":"#222"},{"offset":1,"color":"#fff"}]}},
       "encoding":{"y":{"datum":2,"axis":{"domain":false,"offset":-108,"values":[0,1,2,50,60,70,80,90,100],"labelOverlap":false,"labelFontSize":{"condition":{"test":"datum.value < 10","value":10},"value":12},"labelBaseline":{"condition":{"test":"datum.value == 50","value":"alphabetic"},"value":"middle"},"labelFontWeight":"bold","tickSize":4,"tickWidth":1.2,"labelPadding":2,"title":"% GFP Positive Cells","titleFontSize":14,"titleFontWeight":"bold","titleAngle":270,"titleAlign":"center","titleBaseline":"middle","titleX":-29,"titleY":83}},"y2":{"datum":0}}},
      {"transform":[{"filter":"datum.v <= 2"}],"mark":{"type":"bar","fill":"#000","stroke":"#000","strokeWidth":1.2},"encoding":{"y":{"field":"v","type":"quantitative","axis":{"domain":false,"offset":-108,"values":[0,1,2,50,60,70,80,90,100],"labelOverlap":false,"labelFontSize":{"condition":{"test":"datum.value < 10","value":10},"value":12},"labelBaseline":{"condition":{"test":"datum.value == 50","value":"alphabetic"},"value":"middle"},"labelFontWeight":"bold","tickSize":4,"tickWidth":1.2,"labelPadding":2,"title":"% GFP Positive Cells","titleFontSize":14,"titleFontWeight":"bold","titleAngle":270,"titleAlign":"center","titleBaseline":"middle","titleX":-29,"titleY":83}}}},
      {"mark":{"type":"rule","strokeWidth":2,"color":"#000"},"encoding":{"y":{"field":"v","type":"quantitative","axis":{"domain":false,"offset":-108,"values":[0,1,2,50,60,70,80,90,100],"labelOverlap":false,"labelFontSize":{"condition":{"test":"datum.value < 10","value":10},"value":12},"labelBaseline":{"condition":{"test":"datum.value == 50","value":"alphabetic"},"value":"middle"},"labelFontWeight":"bold","tickSize":4,"tickWidth":1.2,"labelPadding":2,"title":"% GFP Positive Cells","titleFontSize":14,"titleFontWeight":"bold","titleAngle":270,"titleAlign":"center","titleBaseline":"middle","titleX":-29,"titleY":83}},"y2":{"field":"e"}}},
      {"mark":{"type":"tick","thickness":2.5,"size":34,"color":"#000"},"encoding":{"y":{"field":"e","type":"quantitative","axis":{"domain":false,"offset":-108,"values":[0,1,2,50,60,70,80,90,100],"labelOverlap":false,"labelFontSize":{"condition":{"test":"datum.value < 10","value":10},"value":12},"labelBaseline":{"condition":{"test":"datum.value == 50","value":"alphabetic"},"value":"middle"},"labelFontWeight":"bold","tickSize":4,"tickWidth":1.2,"labelPadding":2,"title":"% GFP Positive Cells","titleFontSize":14,"titleFontWeight":"bold","titleAngle":270,"titleAlign":"center","titleBaseline":"middle","titleX":-29,"titleY":83}}}}
     ]},
    {"data":{"values":[{"x":0,"y0":0,"y1":2},{"x":0,"y0":50,"y1":100}]},"mark":{"type":"rule","strokeWidth":1.2,"color":"#000"},
     "encoding":{"x":{"field":"x","type":"quantitative","scale":{"domain":[0,1],"range":[108,350],"nice":false},"axis":null},"y":{"field":"y0","type":"quantitative","axis":{"domain":false,"offset":-108,"values":[0,1,2,50,60,70,80,90,100],"labelOverlap":false,"labelFontSize":{"condition":{"test":"datum.value < 10","value":10},"value":12},"labelBaseline":{"condition":{"test":"datum.value == 50","value":"alphabetic"},"value":"middle"},"labelFontWeight":"bold","tickSize":4,"tickWidth":1.2,"labelPadding":2,"title":"% GFP Positive Cells","titleFontSize":14,"titleFontWeight":"bold","titleAngle":270,"titleAlign":"center","titleBaseline":"middle","titleX":-29,"titleY":83}},"y2":{"field":"y1"}}},
    {"data":{"values":[{"x1":0.269,"x2":0.764,"y":86.7,"xt":0.52,"yt":87.1,"t":"***"}]},
     "layer":[
      {"mark":{"type":"rule","strokeWidth":1.5,"color":"#000"},"encoding":{"x":{"field":"x1","type":"quantitative","scale":{"domain":[0,1],"range":[108,350],"nice":false},"axis":null},"x2":{"field":"x2"},"y":{"field":"y","type":"quantitative","axis":{"domain":false,"offset":-108,"values":[0,1,2,50,60,70,80,90,100],"labelOverlap":false,"labelFontSize":{"condition":{"test":"datum.value < 10","value":10},"value":12},"labelBaseline":{"condition":{"test":"datum.value == 50","value":"alphabetic"},"value":"middle"},"labelFontWeight":"bold","tickSize":4,"tickWidth":1.2,"labelPadding":2,"title":"% GFP Positive Cells","titleFontSize":14,"titleFontWeight":"bold","titleAngle":270,"titleAlign":"center","titleBaseline":"middle","titleX":-29,"titleY":83}}}},
      {"mark":{"type":"text","fontSize":10,"baseline":"alphabetic","color":"#000"},"encoding":{"x":{"field":"xt","type":"quantitative","axis":null},"y":{"field":"yt","type":"quantitative","axis":{"domain":false,"offset":-108,"values":[0,1,2,50,60,70,80,90,100],"labelOverlap":false,"labelFontSize":{"condition":{"test":"datum.value < 10","value":10},"value":12},"labelBaseline":{"condition":{"test":"datum.value == 50","value":"alphabetic"},"value":"middle"},"labelFontWeight":"bold","tickSize":4,"tickWidth":1.2,"labelPadding":2,"title":"% GFP Positive Cells","titleFontSize":14,"titleFontWeight":"bold","titleAngle":270,"titleAlign":"center","titleBaseline":"middle","titleX":-29,"titleY":83}},"text":{"field":"t"}}}
     ]}
   ]}
]
}
